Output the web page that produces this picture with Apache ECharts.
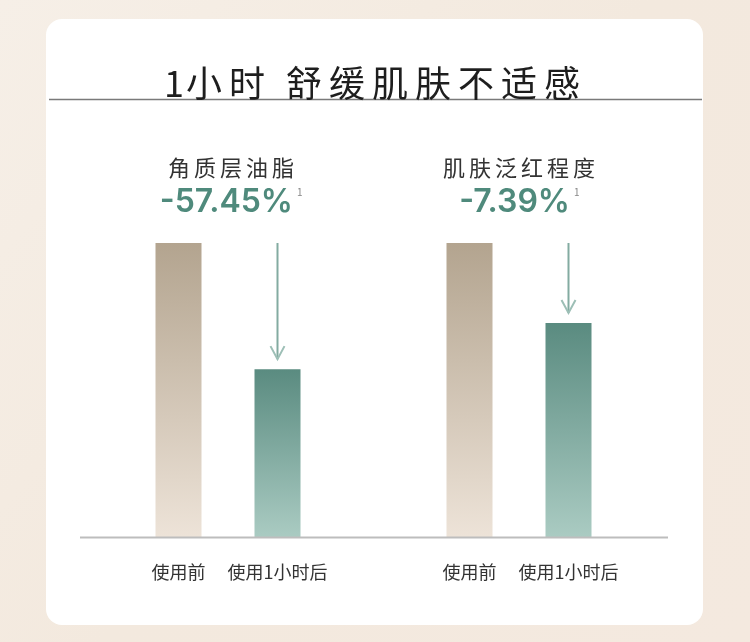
<!DOCTYPE html>
<html><head><meta charset="utf-8">
<script src="https://cdn.jsdelivr.net/npm/echarts@6/dist/echarts.min.js"></script>
<style>html,body{margin:0;padding:0;background:#f4eadf;}#c{width:750px;height:642px;}</style>
</head><body><div id="c"></div>
<script>
// ---- data ----
const pageTitle = '1小时 舒缓肌肤不适感';
const metricNames = ['角质层油脂', '肌肤泛红程度'];
const changeLabels = ['-57.45%', '-7.39%'];
const footnoteMark = '1';
const categories = ['使用前', '使用1小时后'];
const beforeValues = [100, 100];
const afterValues = [57.1, 72.8];
const axisMax = 100;

// ---- style ----
const FONT = '"Noto Sans CJK SC", "Noto Sans", sans-serif';
const beforeGrad = {type:'linear',x:0,y:0,x2:0,y2:1,colorStops:[{offset:0,color:'#b3a48f'},{offset:1,color:'#ede3d8'}]};
const afterGrad = {type:'linear',x:0,y:0,x2:0,y2:1,colorStops:[{offset:0,color:'#5a8b80'},{offset:1,color:'#aacbc2'}]};
const teal = '#4f8a7c';

const gridLefts = [129, 420];
const panelCenters = [231, 519];

const chart = echarts.init(document.getElementById('c'), null, {renderer:'canvas'});

const grids = gridLefts.map(l => ({left:l, width:198, top:243, height:294, containLabel:false}));
const xAxes = gridLefts.map((l,i) => ({
  type:'category', gridIndex:i, data:categories,
  axisLine:{show:false}, axisTick:{show:false},
  axisLabel:{interval:0, fontSize:18, color:'#333', fontFamily:FONT, margin:26, hideOverlap:false}
}));
const yAxes = gridLefts.map((l,i) => ({
  type:'value', gridIndex:i, min:0, max:axisMax, show:false, splitLine:{show:false}
}));

const series = [];
gridLefts.forEach((l,i) => {
  series.push({
    type:'bar', xAxisIndex:i, yAxisIndex:i, barWidth:46, silent:true,
    data:[
      {value:beforeValues[i], itemStyle:{color:beforeGrad}},
      {value:afterValues[i], itemStyle:{color:afterGrad}}
    ]
  });
  series.push({
    type:'custom', xAxisIndex:i, yAxisIndex:i, silent:true, z:5,
    data:[[1, beforeValues[i], afterValues[i]]],
    renderItem:function(params, api){
      const s = api.coord([api.value(0), api.value(1)]);
      const e = api.coord([api.value(0), api.value(2)]);
      const x = Math.round(s[0]) - 0.5;
      const y1 = s[1];
      const y2 = e[1] - 10;
      return {type:'group', children:[
        {type:'line', shape:{x1:x,y1:y1,x2:x,y2:y2}, style:{stroke:'#83aba1', lineWidth:2}},
        {type:'polyline', shape:{points:[[x-7,y2-13],[x,y2],[x+7,y2-13]]}, style:{stroke:'#9dbfb6', lineWidth:2, fill:null}}
      ]};
    }
  });
});

// graphic texts
const graphics = [];
graphics.push({type:'rect', z:-10, shape:{x:0,y:0,width:750,height:642},
  style:{fill:{type:'linear',x:0,y:0,x2:1,y2:1,colorStops:[{offset:0,color:'#f6efe7'},{offset:0.5,color:'#f3e9de'},{offset:1,color:'#f4e9df'}]}}});
graphics.push({type:'rect', z:-9, shape:{x:46,y:19,width:657,height:606,r:16}, style:{fill:'#ffffff'}});

// page title, char by char
const titleChars = Array.from(pageTitle);
let tx = 174;
titleChars.forEach((ch, k) => {
  if (ch !== ' ') {
    graphics.push({type:'text', z:10, x:tx, y:83, style:{text:ch, font:'400 36px '+FONT, fill:'#1e1e1e', align:'center', verticalAlign:'middle'}});
  }
  const next = titleChars[k+1];
  if (ch === '1') tx += 30;
  else if (next === ' ') tx += 28.5;
  else if (ch === ' ') tx += 28.5;
  else tx += 43;
});
graphics.push({type:'line', z:9, shape:{x1:49,y1:99.5,x2:702,y2:99.5}, style:{stroke:'#7a7a7a', lineWidth:1.3}});

metricNames.forEach((name, i) => {
  const chars = Array.from(name);
  const pitch = 26;
  const start = panelCenters[i] - pitch*(chars.length-1)/2;
  chars.forEach((ch,k) => {
    graphics.push({type:'text', z:10, x:start+k*pitch, y:168, style:{text:ch, font:'400 22px '+FONT, fill:'#333', align:'center', verticalAlign:'middle'}});
  });
});
const pctRight = [293, 570];
changeLabels.forEach((lab, i) => {
  graphics.push({type:'text', z:10, x:pctRight[i], y:202, style:{text:lab, font:'600 32px Inter, "Noto Sans", sans-serif', fill:teal, align:'right', verticalAlign:'middle'}});
  graphics.push({type:'text', z:10, x:pctRight[i]+4, y:187, style:{text:footnoteMark, font:'400 10px '+FONT, fill:'#888', align:'left', verticalAlign:'top'}});
});

chart.setOption({
  animation:false,
  backgroundColor:'transparent',
  grid:grids, xAxis:xAxes, yAxis:yAxes, series:series, graphic:graphics
});

const baseY = Math.round(chart.convertToPixel({yAxisIndex:0}, 0));
graphics.push({type:'line', z:8, shape:{x1:80,y1:baseY+0.5,x2:668,y2:baseY+0.5}, style:{stroke:'#bdbdbd', lineWidth:2}});
chart.setOption({graphic:graphics}, {replaceMerge:['graphic']});
</script></body></html>
